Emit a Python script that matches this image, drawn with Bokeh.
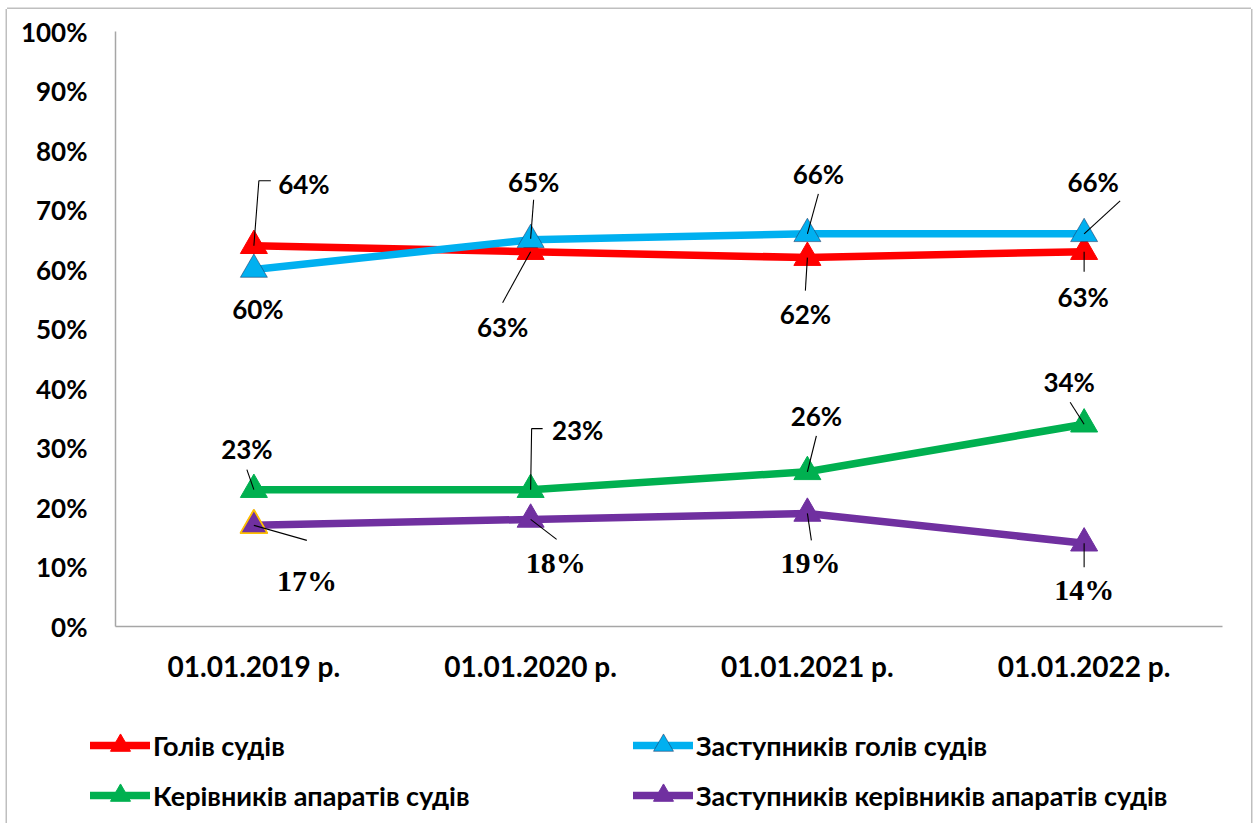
from bokeh.plotting import figure
from bokeh.models import (FactorRange, Range1d, FixedTicker, NumeralTickFormatter,
                          Legend, LegendItem, ColumnDataSource)
from bokeh.core.properties import value
from bokeh.embed import file_html
from bokeh.resources import INLINE

# ---------------- data ----------------
categories = ["01.01.2019 р.", "01.01.2020 р.", "01.01.2021 р.", "01.01.2022 р."]
holiv = [0.64, 0.63, 0.62, 0.63]                      # Голів судів
zastupnykiv_holiv = [0.60, 0.65, 0.66, 0.66]          # Заступників голів судів
kerivnykiv = [0.23, 0.23, 0.26, 0.34]                 # Керівників апаратів судів
zastupnykiv_kerivnykiv = [0.17, 0.18, 0.19, 0.14]     # Заступників керівників апаратів судів
series_names = ["Голів судів", "Заступників голів судів",
                "Керівників апаратів судів", "Заступників керівників апаратів судів"]
y_ticks = [0.0, 0.1, 0.2, 0.3, 0.4, 0.5, 0.6, 0.7, 0.8, 0.9, 1.0]

# ---------------- styles / layout ----------------
colors = ["#FF0000", "#00B0F0", "#00B050", "#7030A0"]
ML, MT = 7, 9
W = 1244
HA, HB = 700, 114
FL, FW, FT, FH = 108, 1107, 22, 595
PX_X = FW / len(categories)   # pixels per category unit
PX_Y = FH / 1.0               # pixels per unit of y
BORDER = "#BFBFBF"

# label offsets (screen px) relative to each point
label_offsets = [
    [(50, -62), (-28, 75), (-2, 56), (-1, 45)],
    [(4, 39), (3, -58), (11, -60), (9, -52)],
    [(-7, -41), (47, -60), (9, -56), (-15, -42)],
    [(53, 55), (25, 43), (3, 49), (0, 46)],
]
# leader lines (screen px paths) relative to each point
leader_paths = [
    [[(0, 0), (5, -65), (17, -65)], [(0, 0), (-28, 51)], [(0, 0), (-2, 33)], [(0, 0), (0, 20)]],
    [None, [(0, -1), (3, -40)], [(0, 0), (11, -40)], [(0, 0), (36, -33)]],
    [[(0, 0), (-7, -20)], [(0, 0), (1, -61), (12, -61)], [(0, 0), (9, -36)], [(0, 0), (-14, -22)]],
    [[(0, 0), (53, 15)], [(0, 0), (26, 20)], [(0, 0), (4, 27)], [(0, 0), (0, 24)]],
]

FONT = "Lato"
FS = "26px"

p = figure(width=W, height=HA, x_range=FactorRange(*categories), y_range=Range1d(0, 1),
           output_backend="svg", toolbar_location=None,
           min_border_left=FL, min_border_right=W - FL - FW,
           min_border_top=FT, min_border_bottom=HA - FT - FH)
p.margin = (MT, 0, 0, ML)
p.styles = {"box-shadow": f"-1.5px 0 0 {BORDER}, 1.5px 0 0 {BORDER}, 0 -1.5px 0 {BORDER}"}
p.outline_line_color = None
p.xgrid.grid_line_color = None
p.ygrid.grid_line_color = None
p.background_fill_color = "white"
p.border_fill_color = "white"

# axes
p.yaxis.ticker = FixedTicker(ticks=y_ticks)
p.yaxis.formatter = NumeralTickFormatter(format="0%")
for ax in (p.xaxis[0], p.yaxis[0]):
    ax.axis_line_color = "#A6A6A6"
    ax.axis_line_width = 1.5
    ax.major_tick_line_color = None
    ax.minor_tick_line_color = None
    ax.major_tick_in = 0
    ax.major_tick_out = 0
    ax.minor_tick_out = 0
    ax.major_label_text_font = FONT
    ax.major_label_text_font_style = "bold"
    ax.major_label_text_font_size = FS
    ax.major_label_text_color = "black"
p.xaxis.major_label_text_font_size = "28px"
p.yaxis.major_label_standoff = 28
p.xaxis.major_label_standoff = 22

series = [holiv, zastupnykiv_holiv, kerivnykiv, zastupnykiv_kerivnykiv]

def marker_style(col):
    if col == "#00B0F0":
        return dict(fill_color=col, line_color="#1F3864", line_width=0.8, line_alpha=0.7)
    return dict(fill_color=col, line_color=col, line_width=1)

for vals, col in zip(series, colors):
    src = ColumnDataSource(dict(x=categories, y=vals))
    p.line("x", "y", source=src, line_color=col, line_width=7.5,
           line_cap="round", line_join="round")
    p.scatter("x", "y", source=src, marker="triangle", size=27, **marker_style(col))

# first purple marker has a gold outline
p.scatter(x=categories[:1], y=zastupnykiv_kerivnykiv[:1], marker="triangle", size=27,
          fill_color=colors[3], line_color="#FFC000", line_width=1.8)

# leader lines
xs_l, ys_l = [], []
for vals, paths in zip(series, leader_paths):
    for i, (v, path) in enumerate(zip(vals, paths)):
        if path is None:
            continue
        xs_l.append([i + 0.5 + dx / PX_X for dx, dy in path])
        ys_l.append([v - dy / PX_Y for dx, dy in path])
p.multi_line(xs=xs_l, ys=ys_l, line_color="black", line_width=1.1)

# data labels
for k, (vals, offs) in enumerate(zip(series, label_offsets)):
    src = ColumnDataSource(dict(
        x=categories, y=vals,
        t=[f"{round(v * 100)}%" for v in vals],
        xo=[o[0] for o in offs], yo=[o[1] for o in offs]))
    if k == 3:
        p.text("x", "y", text="t", source=src, x_offset="xo", y_offset="yo",
               text_font=value("Liberation Serif"), text_font_style="bold",
               text_font_size="30px", text_align="center", text_baseline="middle",
               text_color="black")
    else:
        p.text("x", "y", text="t", source=src, x_offset="xo", y_offset="yo",
               text_font=value(FONT), text_font_style="bold",
               text_font_size=FS, text_align="center", text_baseline="middle",
               text_color="black")

# ---------------- legend strip (separate root, no frame alignment) ----------------
lg = figure(width=W, height=HB, x_range=Range1d(0, 1), y_range=Range1d(0, 1),
            x_axis_type=None, y_axis_type=None, output_backend="svg", toolbar_location=None,
            min_border=0, min_border_left=0, min_border_right=0,
            min_border_top=0, min_border_bottom=0)
lg.margin = (0, 0, 0, ML)
lg.styles = {"box-shadow": f"-1.5px 0 0 {BORDER}, 1.5px 0 0 {BORDER}"}
lg.outline_line_color = None
lg.xgrid.grid_line_color = None
lg.ygrid.grid_line_color = None
lg.border_fill_color = "white"

items = []
for name, col in zip(series_names, colors):
    # legend-key renderers hold one point outside the visible range
    lr = lg.line(x=[-5, -4], y=[-5, -5], line_color=col, line_width=7.5, line_cap="round")
    mr = lg.scatter(x=[-5], y=[-5], marker="triangle", size=20, **marker_style(col))
    items.append(LegendItem(label=name, renderers=[lr, mr]))

legend = Legend(items=items, location=(90 - ML, 3), orientation="horizontal", ncols=2,
                glyph_width=60, glyph_height=50, label_height=50, label_width=480,
                label_standoff=3, spacing=0, padding=0, margin=0,
                border_line_color=None, background_fill_alpha=0,
                label_text_font=FONT, label_text_font_style="bold",
                label_text_font_size="27px", label_text_color="black")
lg.add_layout(legend, "center")

open("out.html", "w").write(file_html([p, lg], INLINE))
